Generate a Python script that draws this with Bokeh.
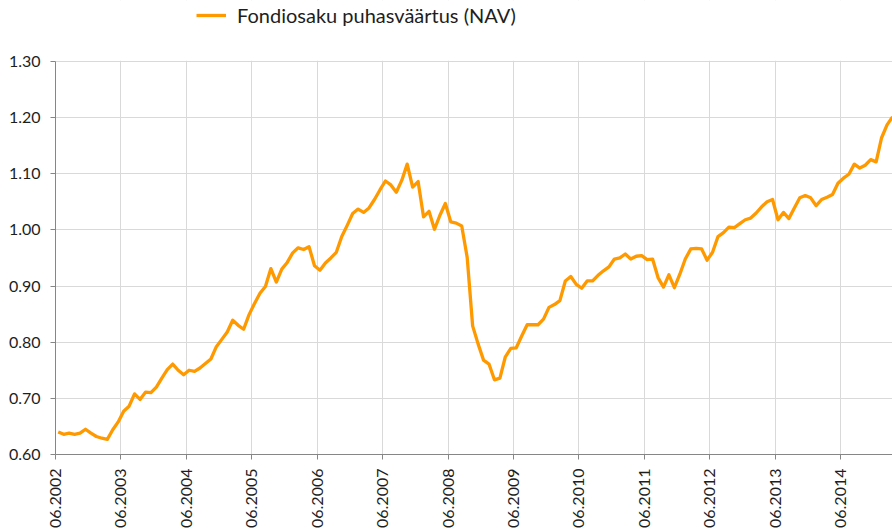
from bokeh.plotting import figure
from bokeh.models import (FixedTicker, NumeralTickFormatter, Legend, LegendItem, Range1d,
                          ColumnDataSource, BoxAnnotation)
from bokeh.embed import file_html
from bokeh.resources import INLINE
import math

# Monthly NAV, 06.2002 ... 03.2015
nav = [
    0.640, 0.636, 0.638, 0.636, 0.638, 0.645, 0.638, 0.632, 0.629, 0.627, 0.644, 0.658,
    0.677, 0.686, 0.708, 0.698, 0.711, 0.710, 0.720, 0.736, 0.751, 0.761, 0.750, 0.742,
    0.750, 0.748, 0.754, 0.762, 0.770, 0.792, 0.805, 0.818, 0.839, 0.830, 0.823, 0.849,
    0.869, 0.887, 0.899, 0.931, 0.907, 0.930, 0.942, 0.959, 0.968, 0.965, 0.970, 0.936,
    0.928, 0.941, 0.950, 0.960, 0.988, 1.008, 1.029, 1.037, 1.031, 1.039, 1.054, 1.071,
    1.087, 1.080, 1.067, 1.088, 1.117, 1.076, 1.086, 1.023, 1.033, 1.001, 1.026, 1.047,
    1.014, 1.012, 1.007, 0.951, 0.829, 0.797, 0.768, 0.761, 0.733, 0.736, 0.774, 0.789,
    0.790, 0.811, 0.831, 0.831, 0.831, 0.841, 0.862, 0.867, 0.874, 0.909, 0.917, 0.903,
    0.896, 0.909, 0.909, 0.919, 0.927, 0.934, 0.948, 0.950, 0.957, 0.948, 0.953, 0.954,
    0.947, 0.948, 0.915, 0.898, 0.920, 0.897, 0.921, 0.948, 0.966, 0.967, 0.966, 0.946,
    0.960, 0.988, 0.995, 1.005, 1.004, 1.011, 1.018, 1.021, 1.030, 1.041, 1.050, 1.054,
    1.018, 1.031, 1.020, 1.039, 1.057, 1.061, 1.057, 1.043, 1.054, 1.058, 1.063, 1.083,
    1.092, 1.099, 1.117, 1.110, 1.115, 1.125, 1.121, 1.164, 1.187, 1.201,
]
month_index = list(range(len(nav)))

tick_labels = ["06.2002", "06.2003", "06.2004", "06.2005", "06.2006", "06.2007", "06.2008",
               "06.2009", "06.2010", "06.2011", "06.2012", "06.2013", "06.2014"]
y_ticks = [0.60, 0.70, 0.80, 0.90, 1.00, 1.10, 1.20, 1.30]
y_min, y_max = 0.60, 1.30
series_name = "Fondiosaku puhasväärtus (NAV)"

FONT = "Lato"
TXT = "#1e1e1e"

# ticks sit on category boundaries (Excel-style category axis)
x_ticks = [12 * i - 0.5 for i in range(len(tick_labels))]

# frame spans the full height so the legend (above the chart area) is not clipped;
# y-range headroom equals 61 px above the 1.30 line (563 px per 1.0 unit)
headroom = 61 / 563
p = figure(width=892, height=530, output_backend="svg", toolbar_location=None,
           x_range=Range1d(-0.5, 153.0), y_range=Range1d(y_min, y_max + headroom),
           min_border_left=55, min_border_top=0, min_border_right=0, min_border_bottom=0)
p.outline_line_color = None
p.background_fill_color = "white"
p.border_fill_color = "white"

# grids
p.xgrid.ticker = FixedTicker(ticks=x_ticks)
p.xgrid.grid_line_color = "#d9d9d9"
p.ygrid.grid_line_color = "#d9d9d9"
p.ygrid.ticker = FixedTicker(ticks=y_ticks)

# mask the vertical grid lines above the top value line
p.add_layout(BoxAnnotation(bottom=y_max + 0.0012, fill_color="white", fill_alpha=1.0,
                           line_color=None, level="underlay"))

src = ColumnDataSource(dict(x=month_index, y=nav))
r = p.line("x", "y", source=src, line_color="#FF9900", line_width=3.3, line_join="round")

# x axis
p.xaxis.ticker = FixedTicker(ticks=x_ticks)
p.xaxis.major_label_overrides = {t: lab for t, lab in zip(x_ticks, tick_labels)}
p.xaxis.major_label_orientation = math.pi / 2
p.xaxis.minor_tick_line_color = None
p.xaxis.major_tick_in = 0
p.xaxis.major_tick_out = 5
p.xaxis.major_label_standoff = 9
p.xaxis.axis_line_color = "#868686"
p.xaxis.major_tick_line_color = "#868686"
p.xaxis.major_label_text_font = FONT
p.xaxis.major_label_text_font_size = "16px"
p.xaxis.major_label_text_color = TXT

# y axis
p.yaxis.ticker = FixedTicker(ticks=y_ticks)
p.yaxis.bounds = (y_min, y_max)
p.yaxis.formatter = NumeralTickFormatter(format="0.00")
p.yaxis.minor_tick_line_color = None
p.yaxis.major_tick_in = 0
p.yaxis.major_tick_out = 5
p.yaxis.major_label_standoff = 10
p.yaxis.axis_line_color = "#868686"
p.yaxis.major_tick_line_color = "#868686"
p.yaxis.major_label_text_font = FONT
p.yaxis.major_label_text_font_size = "16px"
p.yaxis.major_label_text_color = TXT

# legend: location = (left, bottom) in px from the frame's bottom-left corner
legend = Legend(items=[LegendItem(label=series_name, renderers=[r])],
                location=(141, 427), padding=0, margin=0, spacing=0,
                glyph_width=30, glyph_height=20, label_height=20, label_standoff=11,
                border_line_color=None, background_fill_alpha=0,
                label_text_font=FONT, label_text_font_size="20px", label_text_color=TXT)
p.add_layout(legend, "center")

open("out.html", "w").write(file_html(p, INLINE))
